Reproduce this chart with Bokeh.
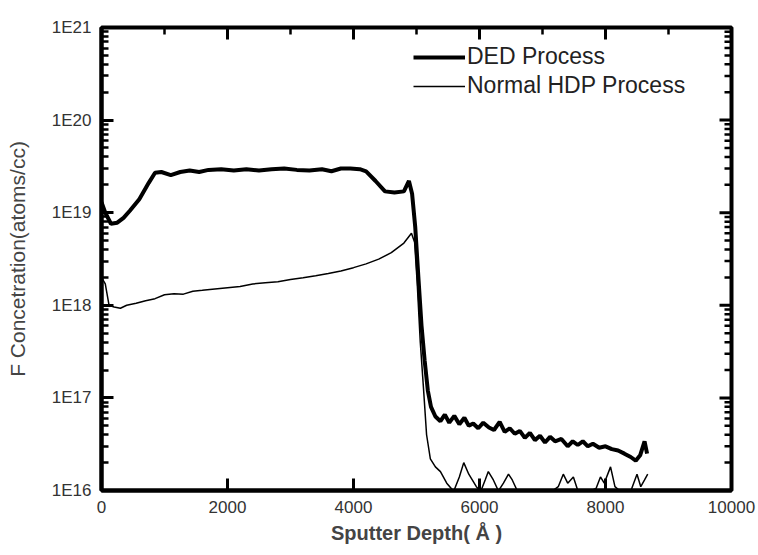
import math
from bokeh.plotting import figure
from bokeh.models import CustomJSTickFormatter, Legend, LegendItem, Range1d
from bokeh.embed import file_html
from bokeh.resources import INLINE

# DED Process (thick line)
ded_depth = [0, 60, 150, 250, 350, 450, 600, 750, 850, 950, 1100, 1250, 1400, 1550, 1700,
             1900, 2100, 2300, 2500, 2700, 2900, 3100, 3300, 3500, 3650, 3800, 3950, 4100,
             4200, 4350, 4500, 4650, 4800, 4880, 4930, 4980, 5030, 5080, 5130, 5180, 5230,
             5300, 5380, 5450, 5520, 5600, 5680, 5760, 5830, 5900, 5980, 6060, 6150, 6230,
             6320, 6400, 6480, 6560, 6640, 6720, 6800, 6880, 6960, 7040, 7120, 7200, 7300,
             7400, 7480, 7560, 7640, 7720, 7800, 7900, 8000, 8100, 8200, 8300, 8400, 8480,
             8550, 8620, 8660]
ded_conc = [1.3e19, 1.0e19, 7.6e18, 7.8e18, 8.8e18, 1.05e19, 1.4e19, 2.1e19, 2.7e19, 2.75e19,
            2.55e19, 2.75e19, 2.85e19, 2.75e19, 2.9e19, 2.95e19, 2.85e19, 2.95e19, 2.85e19,
            2.95e19, 3.0e19, 2.9e19, 2.85e19, 2.95e19, 2.8e19, 3.0e19, 3.0e19, 2.95e19,
            2.8e19, 2.2e19, 1.7e19, 1.65e19, 1.7e19, 2.2e19, 1.6e19, 7e18, 2.0e18, 6e17,
            2.5e17, 1.2e17, 8e16, 6.3e16, 5.6e16, 6.6e16, 5.4e16, 6.4e16, 5.2e16, 6.1e16,
            5.0e16, 5.3e16, 4.7e16, 5.4e16, 4.8e16, 4.5e16, 5.5e16, 4.3e16, 4.7e16, 4.1e16,
            4.4e16, 3.7e16, 4.2e16, 3.5e16, 3.9e16, 3.3e16, 3.8e16, 3.4e16, 3.6e16, 3.0e16,
            3.4e16, 3.1e16, 3.4e16, 3.0e16, 3.2e16, 2.9e16, 3.0e16, 2.8e16, 2.7e16, 2.5e16,
            2.3e16, 2.1e16, 2.4e16, 3.4e16, 2.5e16]

# Normal HDP Process (thin line)
hdp_depth = [0, 60, 120, 200, 300, 400, 550, 700, 850, 1000, 1150, 1300, 1450, 1600, 1800,
             2000, 2200, 2400, 2600, 2800, 3000, 3200, 3400, 3600, 3800, 4000, 4200, 4400,
             4600, 4800, 4920, 4970, 5010, 5060, 5110, 5160, 5220, 5300, 5380, 5480, 5590,
             5680, 5750, 5830, 5950, 6020, 6090, 6140, 6220, 6300, 6380, 6460, 6520, 6600,
             6700, 6850, 7000, 7150, 7250, 7330, 7400, 7490, 7560, 7700, 7850, 7920, 7980,
             8080, 8150, 8250, 8400, 8500, 8560, 8620, 8670]
hdp_conc = [2.0e18, 1.7e18, 1.0e18, 9.6e17, 9.3e17, 1.0e18, 1.05e18, 1.12e18, 1.18e18,
            1.3e18, 1.33e18, 1.32e18, 1.42e18, 1.45e18, 1.5e18, 1.55e18, 1.6e18, 1.7e18,
            1.75e18, 1.8e18, 1.9e18, 1.98e18, 2.08e18, 2.2e18, 2.35e18, 2.55e18, 2.8e18,
            3.15e18, 3.7e18, 4.7e18, 6.0e18, 4.8e18, 1.8e18, 4e17, 1.3e17, 4e16, 2.2e16,
            1.8e16, 1.6e16, 1.2e16, 9.8e15, 1.4e16, 2.0e16, 1.5e16, 1.1e16, 9.8e15, 1.3e16,
            1.6e16, 1.3e16, 9.9e15, 1.2e16, 1.5e16, 1.3e16, 9.9e15, 9.5e15, 9.6e15, 9.5e15,
            9.8e15, 1.1e16, 1.5e16, 1.2e16, 1.4e16, 1.0e16, 9.5e15, 1.05e16, 1.4e16, 1.2e16,
            1.8e16, 1.1e16, 9.6e15, 9.8e15, 1.5e16, 1.1e16, 1.3e16, 1.5e16]

x_ticks = [0, 2000, 4000, 6000, 8000, 10000]
x_minor = [1000, 3000, 5000, 7000, 9000]
y_ticks = [1e16, 1e17, 1e18, 1e19, 1e20, 1e21]
y_minor = [k * t for t in y_ticks[:-1] for k in range(2, 10)]

p = figure(width=758, height=555, y_axis_type="log",
           x_range=Range1d(0, 10000), y_range=Range1d(1e16, 1e21),
           output_backend="svg", toolbar_location=None,
           min_border_left=101, min_border_right=27, min_border_top=27, min_border_bottom=65)

p.grid.visible = False
p.outline_line_color = "black"
p.outline_line_width = 4

r_ded = p.line(ded_depth, ded_conc, line_color="black", line_width=4)
r_hdp = p.line(hdp_depth, hdp_conc, line_color="black", line_width=1.5)

# mirrored ticks on the top and right frame edges
p.scatter(x_ticks, [1e21] * len(x_ticks), marker="dash", size=24, angle=math.pi / 2,
          line_color="black", line_width=3)
p.scatter(x_minor, [1e21] * len(x_minor), marker="dash", size=14, angle=math.pi / 2,
          line_color="black", line_width=2.5)
p.scatter([10000] * len(y_ticks), y_ticks, marker="dash", size=24,
          line_color="black", line_width=3)
p.scatter([10000] * len(y_minor), y_minor, marker="dash", size=14,
          line_color="black", line_width=2.5)

fmt = CustomJSTickFormatter(code="return '1E' + Math.round(Math.log10(tick)).toString();")

xa = p.xaxis[0]
ya = p.yaxis[0]
xa.ticker = x_ticks
xa.ticker.num_minor_ticks = 2
ya.formatter = fmt
for ax in (xa, ya):
    ax.axis_line_width = 4
    ax.major_tick_in = 12
    ax.major_tick_out = 0
    ax.minor_tick_in = 7
    ax.minor_tick_out = 0
    ax.major_tick_line_width = 3
    ax.minor_tick_line_width = 2.5
    ax.major_label_text_font = "Liberation Sans"
    ax.major_label_text_font_size = "17px"
    ax.major_label_text_color = "#333333"
    ax.major_label_standoff = 10
    ax.axis_label_text_font = "Liberation Sans"
    ax.axis_label_text_font_style = "normal"
xa.axis_label = "Sputter Depth( Å )"
xa.axis_label_text_font_size = "20px"
xa.axis_label_text_font_style = "bold"
xa.axis_label_standoff = 6
ya.axis_label = "F Concetration(atoms/cc)"
ya.axis_label_text_font_size = "21px"
ya.axis_label_standoff = 20

legend = Legend(items=[LegendItem(label="DED Process", renderers=[r_ded]),
                       LegendItem(label="Normal HDP Process", renderers=[r_hdp])],
                location=(312, 391), padding=0, margin=0, spacing=2,
                glyph_width=52, glyph_height=20, label_standoff=2,
                label_text_font="Liberation Sans", label_text_font_size="23px",
                label_text_color="#222222",
                border_line_color=None, background_fill_alpha=0)
p.add_layout(legend, "center")

open("out.html", "w").write(file_html(p, INLINE))
